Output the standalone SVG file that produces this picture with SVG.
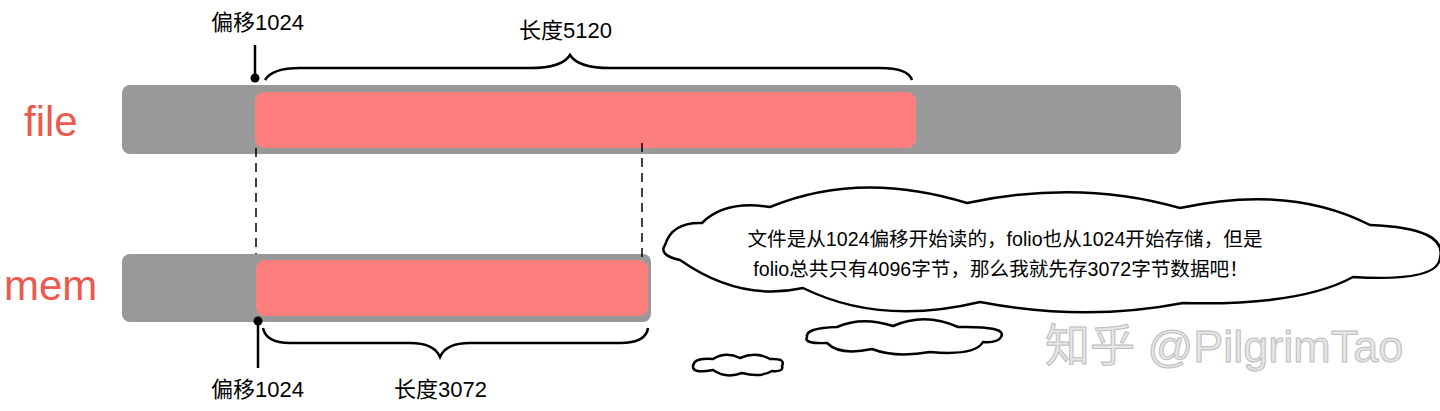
<svg xmlns="http://www.w3.org/2000/svg" width="1440" height="411" viewBox="0 0 1440 411">
<style>
.t{font-family:"Liberation Sans","Noto Sans CJK SC",sans-serif;fill:#000}
.lbl{font-family:"Liberation Sans",sans-serif;fill:#EB5A4F;font-size:42px}
.bar{fill:#999999}
.seg{fill:#FF7F7F}
.ln{stroke:#000;stroke-width:2.5;fill:none}
.dash{stroke:#000;stroke-width:1.5;stroke-dasharray:9 6;fill:none}
.cloud{fill:#fff;stroke:#000;stroke-width:2.5}
.wm{font-family:"Liberation Sans","Noto Sans CJK SC",sans-serif;font-size:45px;fill:#e6e6e6;stroke:#bdbdbd;stroke-width:1}
</style>
<rect width="1440" height="411" fill="#fff"/>
<g id="file">
<text class="lbl" x="24" y="136">file</text>
<rect class="bar" x="122" y="85" width="1059" height="69" rx="8"/>
<rect class="seg" x="255" y="92" width="661" height="56" rx="9"/>
</g>
<g id="mem">
<text class="lbl" x="4" y="300">mem</text>
<rect class="bar" x="122" y="254" width="529" height="68" rx="8"/>
<rect class="seg" x="256" y="260" width="392" height="56" rx="9"/>
</g>
<g id="connectors">
<line class="ln" x1="255" y1="45" x2="255" y2="78"/>
<circle cx="255" cy="78" r="4.5"/>
<path class="ln" d="M265,80 Q272,68 300,68 L530,68 Q562,68 570,55 Q578,68 610,68 L880,68 Q908,68 912,80"/>
<line class="dash" x1="256" y1="148" x2="256" y2="254"/>
<line class="dash" x1="642" y1="143" x2="642" y2="260"/>
<line class="ln" x1="258" y1="321" x2="258" y2="368"/>
<circle cx="258" cy="321" r="4.5"/>
<path class="ln" d="M263,328 Q266,343 290,343 L410,343 Q434,343 440,357 Q446,343 470,343 L620,343 Q646,343 648,328"/>
</g>
<g id="labels">
<text class="t" x="211" y="30" font-size="22">偏移1024</text>
<text class="t" x="519" y="38" font-size="22">长度5120</text>
<text class="t" x="211" y="397" font-size="22">偏移1024</text>
<text class="t" x="394" y="397" font-size="22">长度3072</text>
</g>
<g id="cloud">
<path class="cloud" d="M665,245 Q672,222 702,223 Q725,200 770,207 Q860,170 967,203 Q1080,179 1180,208 Q1290,184 1370,225 Q1448,228 1440,258 Q1438,282 1353,277 Q1300,306 1183,303 Q1085,322 980,302 Q880,326 803,288 Q740,302 680,260 Q658,255 665,245 Z"/>
<text class="t" x="1005" y="246" font-size="19.6" text-anchor="middle">文件是从1024偏移开始读的，folio也从1024开始存储，但是</text>
<text class="t" x="1001" y="276" font-size="19.6" text-anchor="middle">folio总共只有4096字节，那么我就先存3072字节数据吧！</text>
</g>
<g id="cloud2">
<path class="cloud" d="M807,337 Q805,328 837,327 Q862,316 893,326 Q925,312 958,327 Q1008,326 1001,337 Q998,343 983,342 Q975,356 930,352 Q895,358 872,349 Q840,356 827,343 Q803,344 807,337 Z"/>
</g>
<g id="cloud3">
<path class="cloud" d="M693,366 Q694,357 713,359 Q726,351 740,358 Q756,351 770,359 Q786,358 782,366 Q784,372 772,371 Q760,378 742,373 Q726,379 713,370 Q692,374 693,366 Z"/>
</g>
<g id="watermark">
<text class="wm" x="1045" y="362">知乎 @PilgrimTao</text>
</g>
</svg>
